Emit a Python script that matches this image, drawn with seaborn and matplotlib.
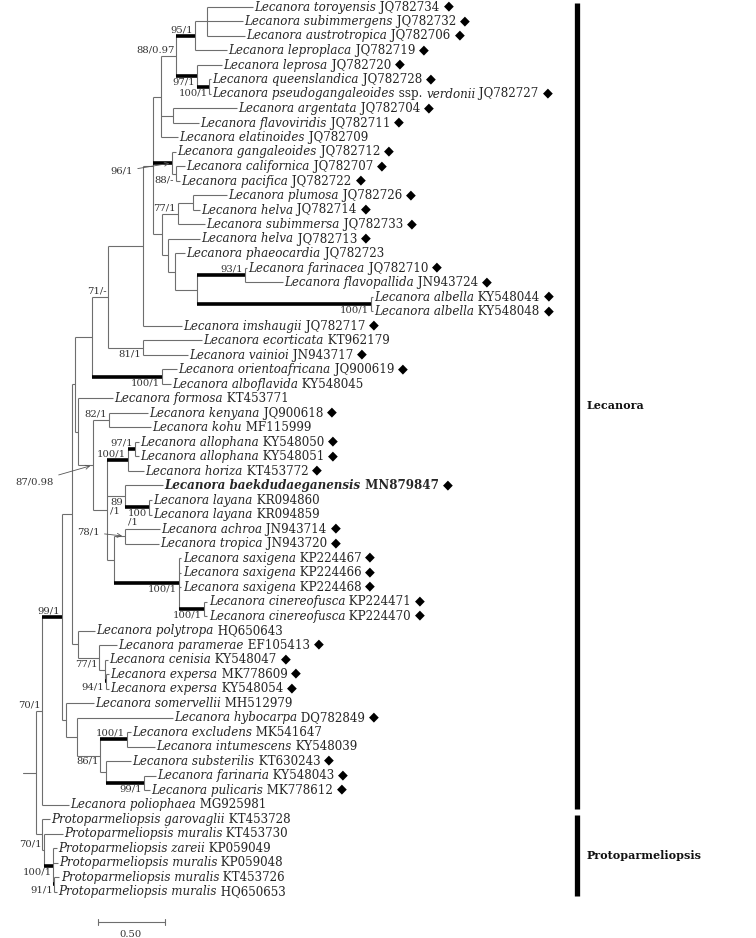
import matplotlib
matplotlib.use("Agg")
import matplotlib.pyplot as plt
import matplotlib.transforms as mtransforms
import seaborn as sns

# ==== Data: leaves (top to bottom) ====
leaf_names = [
    "Lecanora toroyensis", "Lecanora subimmergens", "Lecanora austrotropica", "Lecanora leproplaca",
    "Lecanora leprosa", "Lecanora queenslandica", "Lecanora pseudogangaleoides ssp. verdonii",
    "Lecanora argentata", "Lecanora flavoviridis", "Lecanora elatinoides", "Lecanora gangaleoides",
    "Lecanora californica", "Lecanora pacifica", "Lecanora plumosa", "Lecanora helva",
    "Lecanora subimmersa", "Lecanora helva", "Lecanora phaeocardia", "Lecanora farinacea",
    "Lecanora flavopallida", "Lecanora albella", "Lecanora albella", "Lecanora imshaugii",
    "Lecanora ecorticata", "Lecanora vainioi", "Lecanora orientoafricana", "Lecanora alboflavida",
    "Lecanora formosa", "Lecanora kenyana", "Lecanora kohu", "Lecanora allophana",
    "Lecanora allophana", "Lecanora horiza", "Lecanora baekdudaeganensis", "Lecanora layana",
    "Lecanora layana", "Lecanora achroa", "Lecanora tropica", "Lecanora saxigena",
    "Lecanora saxigena", "Lecanora saxigena", "Lecanora cinereofusca", "Lecanora cinereofusca",
    "Lecanora polytropa", "Lecanora paramerae", "Lecanora cenisia", "Lecanora expersa",
    "Lecanora expersa", "Lecanora somervellii", "Lecanora hybocarpa", "Lecanora excludens",
    "Lecanora intumescens", "Lecanora substerilis", "Lecanora farinaria", "Lecanora pulicaris",
    "Lecanora poliophaea", "Protoparmeliopsis garovaglii", "Protoparmeliopsis muralis",
    "Protoparmeliopsis zareii", "Protoparmeliopsis muralis", "Protoparmeliopsis muralis",
    "Protoparmeliopsis muralis",
]
leaf_acc = [
    "JQ782734", "JQ782732", "JQ782706", "JQ782719", "JQ782720", "JQ782728", "JQ782727",
    "JQ782704", "JQ782711", "JQ782709", "JQ782712", "JQ782707", "JQ782722", "JQ782726",
    "JQ782714", "JQ782733", "JQ782713", "JQ782723", "JQ782710", "JN943724", "KY548044",
    "KY548048", "JQ782717", "KT962179", "JN943717", "JQ900619", "KY548045", "KT453771",
    "JQ900618", "MF115999", "KY548050", "KY548051", "KT453772", "MN879847", "KR094860",
    "KR094859", "JN943714", "JN943720", "KP224467", "KP224466", "KP224468", "KP224471",
    "KP224470", "HQ650643", "EF105413", "KY548047", "MK778609", "KY548054", "MH512979",
    "DQ782849", "MK541647", "KY548039", "KT630243", "KY548043", "MK778612", "MG925981",
    "KT453728", "KT453730", "KP059049", "KP059048", "KT453726", "HQ650653",
]
leaf_diamond = [
    1, 1, 1, 1, 1, 1, 1, 1, 1, 0,
    1, 1, 1, 1, 1, 1, 1, 0, 1, 1,
    1, 1, 1, 0, 1, 1, 0, 0, 1, 0,
    1, 1, 1, 1, 0, 0, 1, 1, 1, 1,
    1, 1, 1, 0, 1, 1, 1, 1, 0, 1,
    0, 0, 1, 1, 1, 0, 0, 0, 0, 0, 0, 0,
]
leaf_parent = [
    "t1", "t1", "t1", "n95", "n97", "n100a", "n100a", "af", "af", "b",
    "n96", "n88b", "n88b", "ph", "ph", "n77", "g", "h", "n93", "n93",
    "alb", "alb", "f", "n81", "n81", "ori", "ori", "l", "n82", "n82",
    "n97b", "n97b", "allo", "n89", "lay", "lay", "o", "o", "saxi", "saxi",
    "saxi", "cine", "cine", "t", "n77b", "v", "n94", "n94", "z", "y",
    "exc", "exc", "aa", "n99", "n99", "bb", "cc", "dd", "ee", "ee", "ff", "ff",
]
leaf_len = [
    0.343, 0.269, 0.284, 0.239, 0.187, 0.015, 0.015, 0.478, 0.194, 0.127,
    0.030, 0.067, 0.030, 0.254, 0.052, 0.201, 0.239, 0.075, 0.015, 0.284,
    0.015, 0.015, 0.291, 0.440, 0.336, 0.112, 0.067, 0.261, 0.291, 0.313,
    0.030, 0.030, 0.119, 0.287, 0.022, 0.022, 0.261, 0.257, 0.019, 0.019,
    0.019, 0.026, 0.026, 0.127, 0.134, 0.022, 0.022, 0.022, 0.212, 0.716,
    0.030, 0.209, 0.187, 0.086, 0.045, 0.201, 0.060, 0.142, 0.030, 0.034,
    0.037, 0.019,
]
bold_leaf = "MN879847"

# ==== Data: internal nodes ====
node_ids = [
    "bb", "w", "s", "r", "j", "n71", "f", "c", "b", "n88", "n95", "t1", "n97", "n100a",
    "af", "n96", "n88b", "d", "n77", "ph", "g", "h", "i", "n93", "alb", "n81", "ori",
    "l", "k", "n82", "m", "allo", "n97b", "n89", "lay", "p", "o", "saxi", "cine",
    "t", "n77b", "v", "n94", "z", "y", "n86", "exc", "aa", "n99",
    "cc", "dd", "ee", "ff",
]
node_parent = [
    "root", "bb", "w", "s", "r", "j", "n71", "f", "c", "b", "n88", "n95", "n88", "n97",
    "b", "c", "n96", "c", "d", "n77", "d", "g", "h", "i", "i", "n71", "j",
    "r", "l", "k", "k", "m", "allo", "m", "n89", "m", "p", "p", "saxi",
    "s", "t", "n77b", "v", "w", "z", "y", "n86", "n86", "aa",
    "root", "cc", "dd", "ee",
]
node_len = [
    0.045, 0.149, 0.075, 0.022, 0.127, 0.119, 0.261, 0.075, 0.060, 0.112, 0.142, 0.090, 0.157, 0.090,
    0.090, 0.142, 0.030, 0.067, 0.119, 0.112, 0.045, 0.052, 0.164, 0.358, 1.299, 0.261, 0.522,
    0.022, 0.112, 0.119, 0.104, 0.157, 0.052, 0.134, 0.179, 0.052, 0.082, 0.485, 0.187,
    0.045, 0.157, 0.045, 0.007, 0.027, 0.085, 0.172, 0.201, 0.045, 0.284,
    0.045, 0.011, 0.071, 0.011,
]
node_support = [
    "70/1", "99/1", "", "", "", "71/-", "", "", "", "88/0.97", "95/1", "", "97/1", "100/1",
    "", "96/1", "88/-", "", "77/1", "", "", "", "", "93/1", "100/1", "81/1", "100/1",
    "", "87/0.98", "82/1", "", "100/1", "97/1", "89\n/1", "100\n/1", "", "78/1", "100/1", "100/1",
    "", "77/1", "", "94/1", "", "", "86/1", "100/1", "", "99/1",
    "", "70/1", "100/1", "91/1",
]
thick_nodes = ["w", "n95", "n97", "n100a", "n96", "n93", "alb", "ori", "allo", "n97b",
               "lay", "saxi", "cine", "n94", "exc", "n99", "ee", "ff"]
root_stub = 0.097
clades = [("Lecanora", 1, 56), ("Protoparmeliopsis", 57, 62)]
scale_len = 0.50

# ==== Layout / style ====
PX_UNIT = 134.0          # pixels per substitution unit
ROOT_PX = 36.0
ROW_PX = 14.5
TOP_PX = 7.0
W_PX, H_PX = 756, 938
below_nodes = {"n97", "n100a", "n88b", "alb", "n81", "ori", "n89", "lay", "saxi", "cine",
               "n77b", "n94", "n86", "n99", "ee", "ff"}
leader_nodes = {"n96": (-28, -6), "k": (-28, -12), "o": (-18, 3)}
LINE_C = "#6e6e6e"
LABEL_FS = 8.6
SUP_FS = 7.2

sns.set_theme(style="white")
plt.rcParams["font.family"] = ["DejaVu Serif", "DejaVu Sans"]

# ==== Tree geometry ====
depth = {"root": 0.0}
for nid, par, ln in zip(node_ids, node_parent, node_len):
    depth[nid] = depth[par] + ln
children = {}
for nid, par in zip(node_ids, node_parent):
    children.setdefault(par, []).append(nid)
ypos = {}
for i, (par, ln) in enumerate(zip(leaf_parent, leaf_len)):
    key = "leaf%d" % i
    depth[key] = depth[par] + ln
    ypos[key] = i + 1
    children.setdefault(par, []).append(key)


def node_y(n):
    if n in ypos:
        return ypos[n]
    ys = [node_y(ch) for ch in children[n]]
    ypos[n] = (min(ys) + max(ys)) / 2.0
    return ypos[n]


node_y("root")
parent_of = dict(zip(node_ids, node_parent))
parent_of.update({"leaf%d" % i: p for i, p in enumerate(leaf_parent)})

fig = plt.figure(figsize=(W_PX / 100, H_PX / 100), dpi=100)
ax = fig.add_axes([0, 0, 1, 1])
ax.set_xlim(-ROOT_PX / PX_UNIT, (W_PX - ROOT_PX) / PX_UNIT)
ax.set_ylim(1 + (H_PX - TOP_PX) / ROW_PX, 1 - TOP_PX / ROW_PX)
ax.axis("off")

# horizontal branches
for n, par in parent_of.items():
    thick = n in thick_nodes
    ax.plot([depth[par], depth[n]], [ypos[n], ypos[n]],
            color="black" if thick else LINE_C, lw=2.6 if thick else 0.8,
            solid_capstyle="butt", zorder=3 if thick else 2)
# vertical connectors
for n, chs in children.items():
    ys = [ypos[ch] for ch in chs]
    ax.plot([depth[n], depth[n]], [min(ys), max(ys)], color=LINE_C, lw=0.8,
            solid_capstyle="butt", zorder=2)
# root stub
ax.plot([-root_stub, 0], [ypos["root"], ypos["root"]], color=LINE_C, lw=0.8)

# ==== Leaf labels ====
for i, (name, acc, dia) in enumerate(zip(leaf_names, leaf_acc, leaf_diamond)):
    key = "leaf%d" % i
    wt = "bold" if acc == bold_leaf else "normal"
    parts = [(name, "italic")]
    if " ssp. " in name:
        a, b = name.split(" ssp. ")
        parts = [(a, "italic"), (" ssp. ", "normal"), (b, "italic")]
    parts.append((" " + acc, "normal"))
    prev = ax.annotate(parts[0][0], xy=(depth[key], ypos[key]), xytext=(1.0, 0),
                       textcoords="offset points", ha="left", va="center",
                       fontsize=LABEL_FS, style=parts[0][1], weight=wt)
    for txt, st in parts[1:]:
        prev = ax.annotate(txt, xy=(1, 0), xycoords=prev, ha="left", va="bottom",
                           fontsize=LABEL_FS, style=st, weight=wt)
    if dia:
        ax.annotate(" \u25c6", xy=(1, 0.05), xycoords=prev, ha="left", va="bottom",
                    fontsize=LABEL_FS + 0.6, family="DejaVu Sans", color="black")

# ==== Support values ====
for nid, sup in zip(node_ids, node_support):
    if not sup:
        continue
    xy = (depth[nid], ypos[nid])
    if nid in leader_nodes:
        ax.annotate(sup, xy=xy, xytext=leader_nodes[nid], textcoords="offset points",
                    ha="right", va="center", fontsize=SUP_FS, color="#333333",
                    arrowprops=dict(arrowstyle="->", color="#555555", lw=0.6,
                                    shrinkA=1, shrinkB=2))
    elif nid in below_nodes:
        ax.annotate(sup, xy=xy, xytext=(-1.2, -1.0), textcoords="offset points",
                    ha="right", va="top", fontsize=SUP_FS, color="#333333",
                    multialignment="left", linespacing=0.95)
    else:
        ax.annotate(sup, xy=xy, xytext=(-1.2, 1.0), textcoords="offset points",
                    ha="right", va="bottom", fontsize=SUP_FS, color="#333333")

# ==== Clade bars ====
trans = mtransforms.blended_transform_factory(ax.transAxes, ax.transData)
for label, first, last in clades:
    y0, y1 = first - 0.3, last + 0.3
    ax.plot([0.763, 0.763], [y0, y1], transform=trans, color="black", lw=3.8,
            solid_capstyle="butt")
    ax.text(0.776, (y0 + y1) / 2, label, transform=trans, ha="left", va="center",
            fontsize=8, weight="bold", color="#111111")

# ==== Scale bar ====
sx = (97.5 - ROOT_PX) / PX_UNIT
sy = len(leaf_names) + 2.1
ax.plot([sx, sx + scale_len], [sy, sy], color=LINE_C, lw=0.8)
for xx in (sx, sx + scale_len):
    ax.plot([xx, xx], [sy - 0.2, sy + 0.2], color=LINE_C, lw=0.8)
ax.text(sx + scale_len / 2, sy + 0.55, "%.2f" % scale_len, ha="center", va="top",
        fontsize=SUP_FS, color="#333333")

fig.savefig("out.png", dpi=100)
